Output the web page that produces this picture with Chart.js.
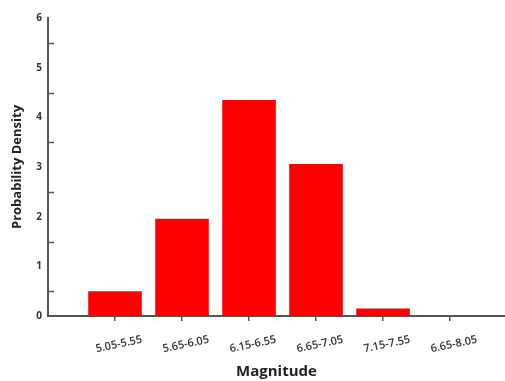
<!DOCTYPE html>
<html>
<head>
<meta charset="utf-8">
<script src="https://cdn.jsdelivr.net/npm/chart.js@4.4.1/dist/chart.umd.min.js"></script>
<style>
  html, body { margin: 0; padding: 0; background: #fff; }
  #wrap { width: 505px; height: 381px; }
</style>
</head>
<body>
<div id="wrap"><canvas id="chart"></canvas></div>
<script>
const magnitudeBins = ['5.05-5.55', '5.65-6.05', '6.15-6.55', '6.65-7.05', '7.15-7.55', '6.65-8.05'];
const density       = [0.5, 1.96, 4.35, 3.06, 0.15, 0];
const yTicks        = [0, 1, 2, 3, 4, 5, 6];

const AXIS = '#555555';
const FONT = "'Open Sans', 'DejaVu Sans', sans-serif";

// small inward marks on the y axis, halfway between the numbered values
const halfTicks = {
  id: 'halfTicks',
  afterDraw(chart) {
    const y = chart.scales.y;
    const c = chart.ctx;
    c.save();
    c.strokeStyle = AXIS;
    c.lineWidth = 1.5;
    for (let i = 0; i < yTicks.length - 1; i++) {
      const py = Math.round(y.getPixelForValue(yTicks[i] + 0.5)) + 0.5;
      c.beginPath();
      c.moveTo(y.right, py);
      c.lineTo(y.right + 6, py);
      c.stroke();
    }
    c.restore();
  }
};

new Chart(document.getElementById('chart'), {
  type: 'bar',
  data: {
    datasets: [{
      data: density.map((v, i) => ({ x: i + 1, y: v })),
      backgroundColor: '#ff0000',
      borderWidth: 0,
      barPercentage: 1,
      categoryPercentage: 0.8,
    }],
  },
  options: {
    responsive: true,
    maintainAspectRatio: false,
    animation: false,
    layout: { padding: { top: 18, left: 0, right: 0, bottom: 0 } },
    plugins: { legend: { display: false }, tooltip: { enabled: false } },
    scales: {
      x: {
        type: 'linear',
        min: 0,
        max: 6.82,
        offset: false,
        afterBuildTicks: (s) => { s.ticks = magnitudeBins.map((_, i) => ({ value: i + 1 })); },
        afterFit: (s) => { s.height = 65; },
        border: { display: true, color: AXIS, width: 2 },
        grid: { display: true, offset: false, drawOnChartArea: false, drawTicks: true, tickLength: 5, color: AXIS, lineWidth: 1.5 },
        ticks: {
          autoSkip: false,
          minRotation: 12,
          maxRotation: 12,
          labelOffset: 27,
          padding: 12,
          color: '#333',
          font: { family: FONT, size: 11, weight: '600' },
          callback: (v) => magnitudeBins[v - 1] ?? '',
        },
        title: {
          display: true,
          text: 'Magnitude',
          color: '#222',
          padding: { top: 0, bottom: 0 },
          font: { family: FONT, size: 15, weight: 'bold' },
        },
      },
      y: {
        min: 0,
        max: 6,
        afterBuildTicks: (s) => { s.ticks = yTicks.map(v => ({ value: v })); },
        afterFit: (s) => { s.width = 48; },
        border: { display: true, color: AXIS, width: 2 },
        grid: { display: false, drawTicks: false },
        ticks: {
          padding: 6,
          color: '#333',
          font: { family: FONT, size: 10, weight: 'bold' },
        },
        title: {
          display: true,
          text: 'Probability Density',
          color: '#222',
          padding: { top: 9, bottom: 0 },
          font: { family: FONT, size: 13, weight: 'bold' },
        },
      },
    },
  },
  plugins: [halfTicks],
});
</script>
</body>
</html>
